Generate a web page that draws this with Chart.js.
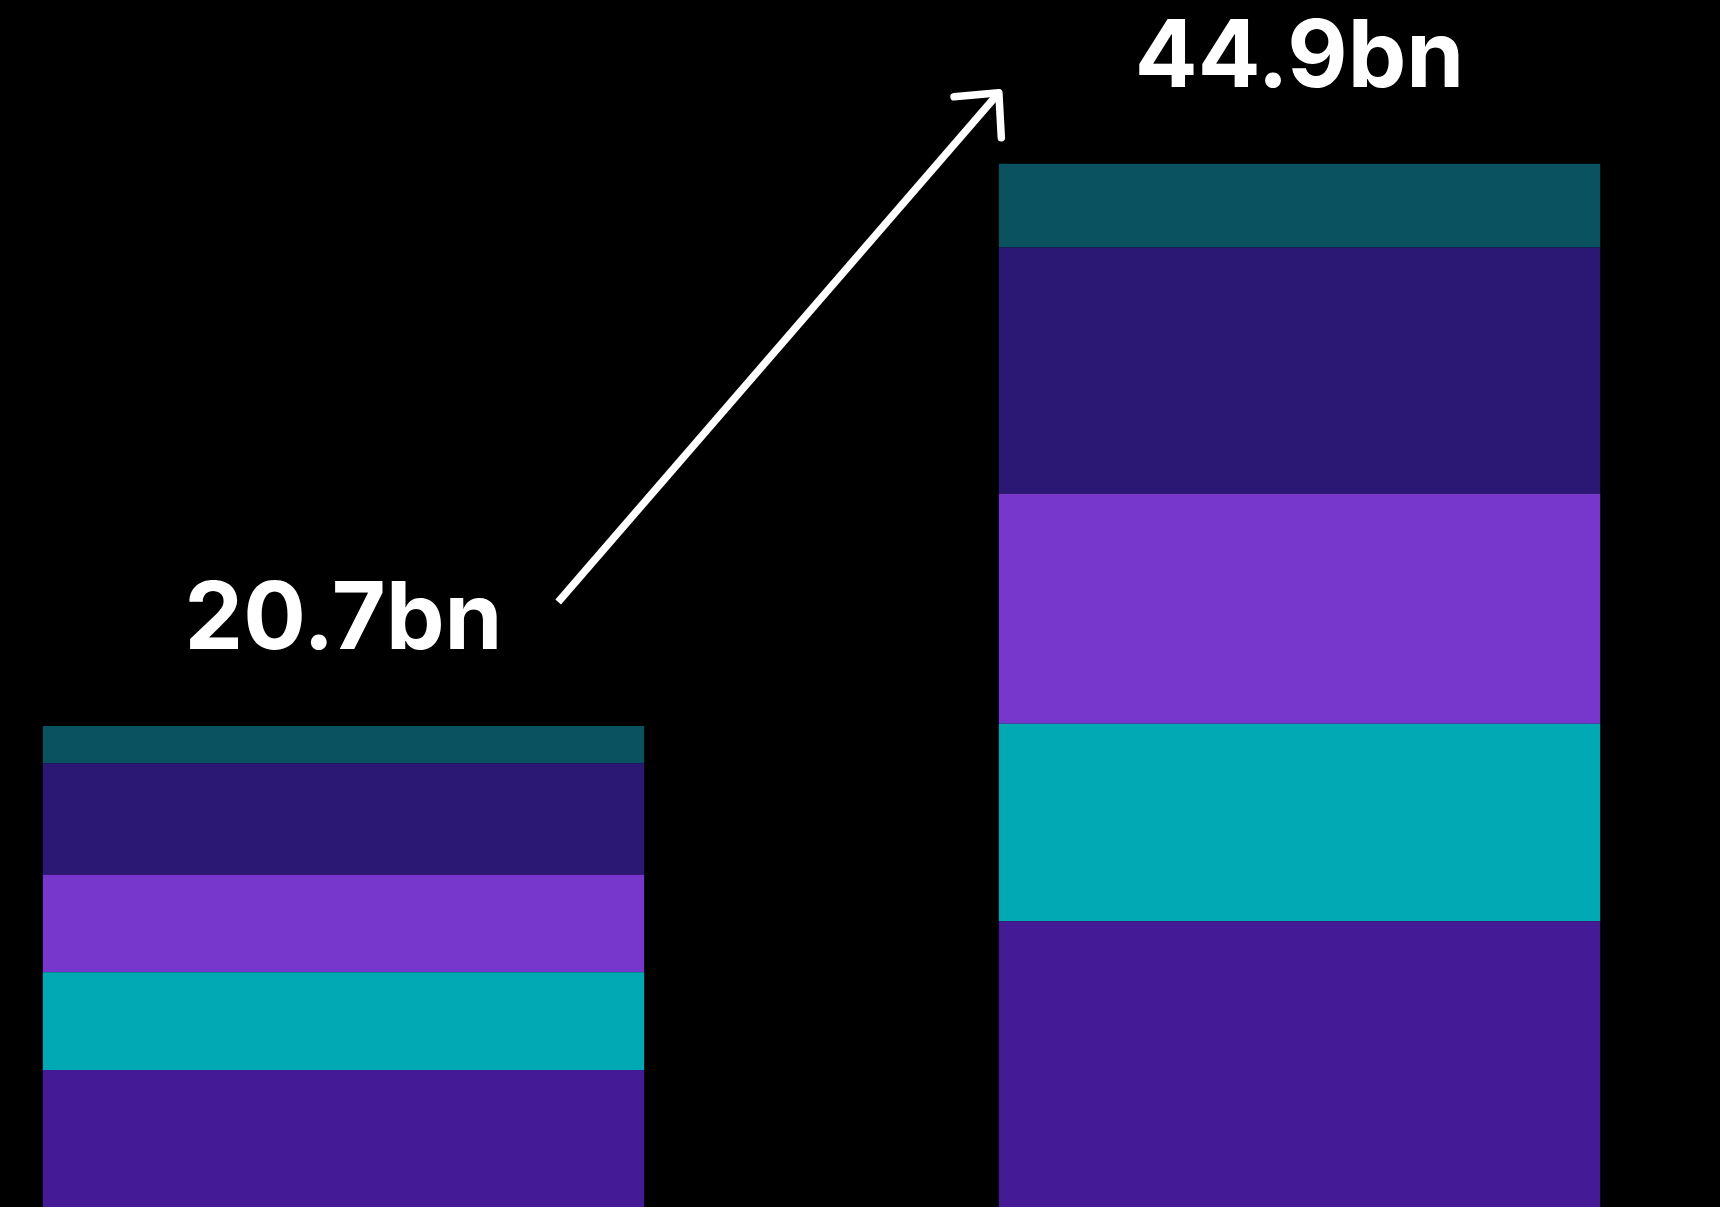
<!DOCTYPE html>
<html lang="en">
<head>
  <meta charset="UTF-8" />
  <title>Stacked totals</title>
  <script src="https://cdn.jsdelivr.net/npm/chart.js"></script>
  <style>
    html, body {
      margin: 0;
      padding: 0;
      background: #000;
      overflow: hidden;
    }
    .wrap {
      position: relative;
      width: 1720px;
      height: 1207px;
    }
  </style>
</head>
<body>

<div class="wrap">
  <canvas id="chart"></canvas>
</div>

<script>
// two periods on a linear index axis (0 = earlier, 1 = later)
const periods = [0, 1];

// stack segments, bottom to top (values in bn)
const segBase   = [5.9, 12.3];
const segTeal   = [4.2, 8.5];
const segViolet = [4.2, 9.9];
const segNavy   = [4.8, 10.6];
const segTop    = [1.6, 3.6];

const segments = [segBase, segTeal, segViolet, segNavy, segTop];
const colours  = ['#451a96', '#00a9b4', '#7736cc', '#2a1874', '#0b5260'];

const totals = periods.map((_, i) => segments.reduce((s, seg) => s + seg[i], 0));

// value labels above each stack + arrow between them
const overlay = {
  id: 'overlay',
  afterDatasetsDraw(chart) {
    const ctx = chart.ctx;
    const y = chart.scales.y;
    const topMeta = chart.getDatasetMeta(segments.length - 1);

    ctx.save();
    ctx.fillStyle = '#fff';
    ctx.font = '700 93px Inter, "Noto Sans", sans-serif';
    ctx.textAlign = 'center';
    ctx.textBaseline = 'alphabetic';
    topMeta.data.forEach((bar, i) => {
      const top = y.getPixelForValue(totals[i]);
      ctx.fillText(totals[i].toFixed(1) + 'bn', bar.x, top - 77);
    });

    // arrow from first stack label towards the second stack
    const a = topMeta.data[0], b = topMeta.data[1];
    const sx = a.x + a.width / 2 - 86, sy = y.getPixelForValue(totals[0]) - 124;
    const tx = b.x - b.width / 2,      ty = y.getPixelForValue(totals[1]) - 71;

    ctx.strokeStyle = '#fff';
    ctx.lineWidth = 7.5;
    ctx.lineCap = 'butt';
    ctx.beginPath();
    ctx.moveTo(sx, sy);
    ctx.lineTo(tx, ty);
    ctx.stroke();

    const back = Math.atan2(sy - ty, sx - tx);
    const spread = 44 * Math.PI / 180, len = 45;
    ctx.lineCap = 'round';
    ctx.lineJoin = 'round';
    ctx.beginPath();
    ctx.moveTo(tx + len * Math.cos(back - spread), ty + len * Math.sin(back - spread));
    ctx.lineTo(tx, ty);
    ctx.lineTo(tx + len * Math.cos(back + spread), ty + len * Math.sin(back + spread));
    ctx.stroke();
    ctx.restore();
  }
};

new Chart(document.getElementById('chart'), {
  type: 'bar',
  data: {
    datasets: segments.map((seg, k) => ({
      data: periods.map((p, i) => ({ x: p, y: seg[i] })),
      backgroundColor: colours[k],
      borderWidth: 0,
      categoryPercentage: 1,
      barPercentage: 0.629
    }))
  },
  options: {
    responsive: true,
    maintainAspectRatio: false,
    animation: false,
    layout: { padding: 0 },
    plugins: {
      legend: { display: false },
      tooltip: { enabled: false }
    },
    scales: {
      x: {
        type: 'linear',
        stacked: true,
        offset: false,
        min: -0.3593,
        max: 1.4398,
        display: false,
        afterBuildTicks: (s) => { s.ticks = periods.map(v => ({ value: v })); }
      },
      y: {
        stacked: true,
        min: 0,
        max: 51.95,
        display: false
      }
    }
  },
  plugins: [overlay]
});
</script>
</body>
</html>
